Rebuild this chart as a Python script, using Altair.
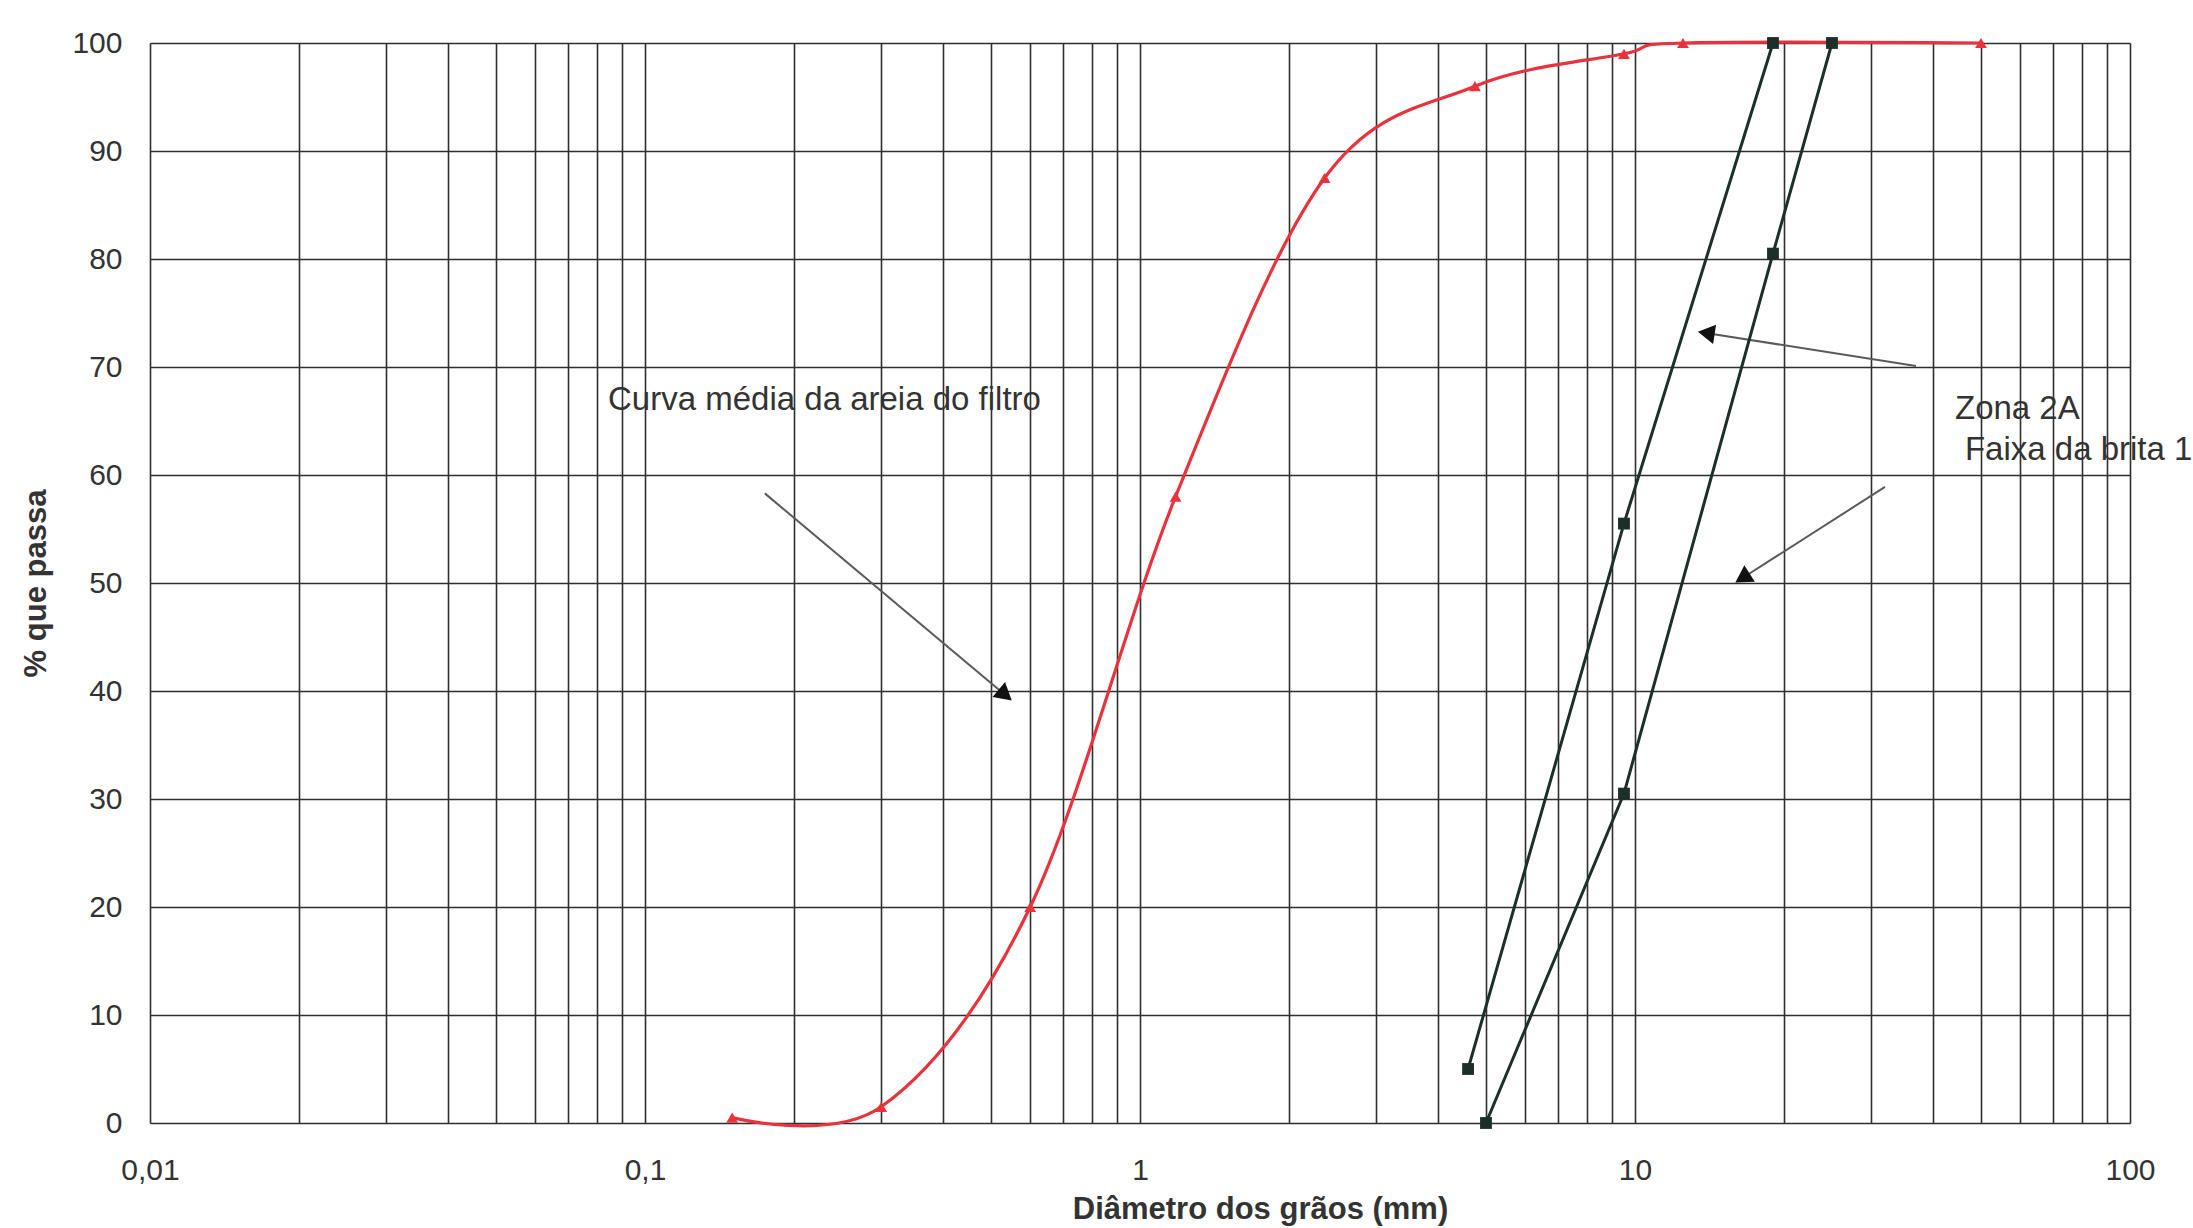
import math
import altair as alt
import pandas as pd

# ---------------- data ----------------
# Curva média da areia do filtro (sieve opening mm, % passing)
sand_mm = [0.15, 0.3, 0.6, 1.18, 2.36, 4.75, 9.5, 12.5, 50]
sand_pct = [0.5, 1.5, 20, 58, 87.5, 96, 99, 100, 100]

# Zona 2A - Faixa da brita 1 : lower and upper limits
lim1_mm = [4.6, 9.5, 19]
lim1_pct = [5, 55.5, 100]
lim2_mm = [5.0, 9.5, 19, 25]
lim2_pct = [0, 30.5, 80.5, 100]

# axis ticks
y_ticks = [0, 10, 20, 30, 40, 50, 60, 70, 80, 90, 100]
x_ticks = [m * 10.0 ** e for e in range(-2, 2) for m in range(1, 10)] + [100.0]

# annotation texts (anchor in data units)
ann_text = ["Curva média da areia do filtro", "Zona 2A", "Faixa da brita 1"]
ann_x = [0.0842, 44.3, 46.4]
ann_y = [66.9, 66.1, 62.3]

# arrows: start -> end (data units)
arr_x1 = [0.1746, 36.96, 32.0]
arr_y1 = [58.3, 70.1, 58.9]
arr_x2 = [0.529, 14.11, 16.67]
arr_y2 = [39.8, 73.1, 50.6]

# ---------------- layout ----------------
W, H = 1980, 1080
FONT = "Liberation Sans"
GRID = "#2e2e2e"
TXT = "#333333"

sand_df = pd.DataFrame({"d": sand_mm, "p": sand_pct})
lim_df = pd.DataFrame({
    "d": lim1_mm + lim2_mm,
    "p": lim1_pct + lim2_pct,
    "s": ["lim1"] * len(lim1_mm) + ["lim2"] * len(lim2_mm),
})
ann_df = pd.DataFrame({"t": ann_text, "d": ann_x, "p": ann_y})


def px(v):
    return W * (math.log10(v) + 2) / 4


def py(v):
    return H * (1 - v / 100)


angles = []
for a, b, c, d in zip(arr_x1, arr_y1, arr_x2, arr_y2):
    dx = px(c) - px(a)
    dy = py(d) - py(b)
    angles.append(math.degrees(math.atan2(dx, -dy)) % 360)
arr_df = pd.DataFrame({"d": arr_x1, "p": arr_y1, "x2": arr_x2, "y2": arr_y2, "ang": angles})
head_df = pd.DataFrame({"d": arr_x2, "p": arr_y2, "ang": angles})

xscale = alt.Scale(type="log", domain=[0.01, 100], nice=False)
yscale = alt.Scale(domain=[0, 100], nice=False, zero=False)

label_expr = ("abs(log(datum.value)/LN10 - round(log(datum.value)/LN10)) < 0.001 ? "
              "replace(format(datum.value, '~g'), '.', ',') : ''")

x_axis = alt.Axis(
    values=x_ticks, grid=True, gridColor=GRID, gridWidth=1.6, gridOpacity=1,
    ticks=False, domain=False, labelExpr=label_expr, labelFont=FONT,
    labelFontSize=30, labelColor=TXT, labelPadding=47, labelBaseline="middle",
    labelFlush=False, labelOverlap=False,
    title="Diâmetro dos grãos (mm)", titleFont=FONT, titleFontSize=31,
    titleFontWeight="bold", titleColor=TXT, titleX=1110, titleY=95,
    titleBaseline="alphabetic", titleAlign="center",
)
y_axis = alt.Axis(
    values=y_ticks, grid=True, gridColor=GRID, gridWidth=1.6, gridOpacity=1,
    ticks=False, domain=False, labelFont=FONT, labelFontSize=30,
    labelColor=TXT, labelPadding=28, labelFlush=False, labelOverlap=False,
    title="% que passa", titleFont=FONT, titleFontSize=31,
    titleFontWeight="bold", titleColor=TXT, titleX=-114, titleY=H / 2,
    titleAngle=270, titleBaseline="middle", titleAlign="center",
)

X = alt.X("d:Q", scale=xscale, axis=x_axis)
Y = alt.Y("p:Q", scale=yscale, axis=y_axis)

sand_line = alt.Chart(sand_df).mark_line(
    interpolate="cardinal", color="#e8323c", strokeWidth=3.2
).encode(x=X, y=Y)
sand_pts = alt.Chart(sand_df).mark_point(
    shape="triangle-up", filled=True, size=140, color="#e8323c", opacity=1
).encode(x=X, y=Y)
lim_line = alt.Chart(lim_df).mark_line(color="#1d2f29", strokeWidth=3).encode(
    x=X, y=Y, detail="s:N",
)
lim_pts = alt.Chart(lim_df).mark_point(
    shape="square", filled=True, size=140, color="#1d2f29", opacity=1
).encode(x=X, y=Y)
arrows = alt.Chart(arr_df).mark_rule(color="#5a5a5a", strokeWidth=2).encode(
    x=X, y=Y, x2="x2:Q", y2="y2:Q",
)
heads = alt.Chart(head_df).mark_point(
    shape="triangle", filled=True, size=380, color="#111111", opacity=1
).encode(x=X, y=Y, angle=alt.Angle("ang:Q", scale=None))
texts = alt.Chart(ann_df).mark_text(
    align="left", baseline="middle", font=FONT, fontSize=33, color=TXT
).encode(x=X, y=Y, text="t:N")

chart = alt.layer(
    sand_line, arrows, heads, lim_line, lim_pts, sand_pts, texts
).properties(
    width=W, height=H,
    autosize=alt.AutoSizeParams(type="none"),
    padding={"left": 150, "top": 43, "right": 63, "bottom": 105},
).configure_view(stroke=None).configure(background="white")

chart.save("out.html", embed_options={"renderer": "svg", "actions": False})
